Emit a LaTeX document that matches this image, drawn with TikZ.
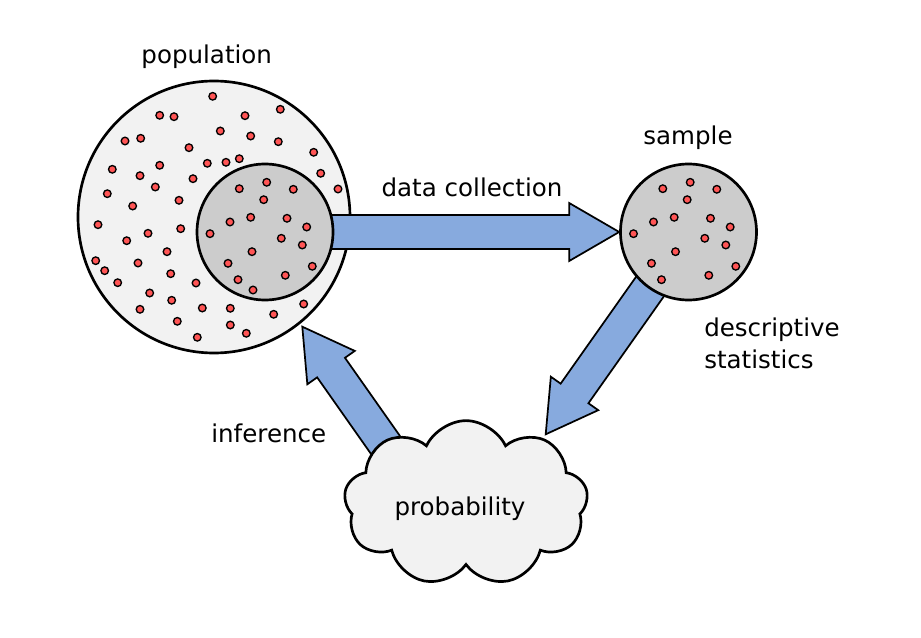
\documentclass[tikz,border=0pt]{standalone}
\usepackage{fontspec}
\setmainfont{DejaVu Sans}
\usetikzlibrary{calc,shapes.symbols}

\pgfdeclarelayer{back}
\pgfdeclarelayer{arrows}
\pgfsetlayers{back,arrows,main}

\definecolor{popgray}{RGB}{242,242,242}
\definecolor{samplegray}{RGB}{204,204,204}
\definecolor{dotred}{RGB}{255,85,85}
\definecolor{arrowblue}{RGB}{135,170,222}

\tikzset{
  circ/.style={circle, draw, line width=2pt, inner sep=0pt},
  dot/.style={draw, line width=1pt, fill=dotred},
  fat/.style={draw, line width=1.3pt, fill=arrowblue, line join=miter},
  lbl/.style={inner sep=0pt, font=\fontsize{18.4}{23.8}\selectfont},
}

% broad arrow from #1 to the tip #2
\newcommand{\fatarrow}[2]{%
  \draw[fat] ($(#1)!12.75pt!90:(#2)$)
    -- ($(#2)!37.5pt!(#1)!12.75pt!90:(#2)$)
    -- ($(#2)!37.5pt!(#1)!21.75pt!90:(#2)$)
    -- (#2)
    -- ($(#2)!37.5pt!(#1)!21.75pt!-90:(#2)$)
    -- ($(#2)!37.5pt!(#1)!12.75pt!-90:(#2)$)
    -- ($(#1)!12.75pt!-90:(#2)$) -- cycle;}

\begin{document}
\begin{tikzpicture}[x=0.75pt,y=0.75pt,yscale=-1,xscale=1]
\useasboundingbox (0,0) rectangle (921,638);

\begin{pgfonlayer}{back}
%Shape: Circle
\node[circ, fill=popgray, minimum size=204pt] (pop) at (214,217) {};
%Shape: Circle
\foreach \x/\y in {212.7/96.3, 159.7/115.3, 174/116.7, 245/115.7, 280.3/109.3,
  220.3/131, 250.7/136, 278.3/141.7, 125/141, 140.7/138.3, 189/147.7,
  313.7/152.3, 112.3/169.3, 140/175.7, 159.7/165.3, 207.3/163.3, 226/162.3,
  239.3/158.7, 320.7/173.3, 193/178.7, 155.3/187, 338/189, 107.3/193.7,
  132.7/206, 179/200.3, 98/224.7, 126.7/240.7, 148/233.3, 180.7/228.7,
  167/251.7, 95.7/260.7, 104.7/270.7, 117.7/282.7, 138/263, 170.7/273.7,
  196/283, 149.7/293, 171.7/300.3, 140/309.3, 202.3/308, 230.3/308.3,
  177.3/321.3, 230.3/325, 197.3/337.3, 246.3/333.3, 273.7/314.3, 303.7/304}
  \draw[dot] (\x,\y) circle (3.8);
\end{pgfonlayer}

%Shape: Circle
\node[circ, fill=samplegray, minimum size=102pt] (inner) at (265,232) {};
%Shape: Circle
\node[circ, fill=samplegray, minimum size=102pt] (sample) at (688.5,232) {};
%Shape: Cloud
\node[cloud, cloud puffs=9, cloud puff arc=130, aspect=1.47,
  draw, line width=2pt, fill=popgray, inner sep=0pt,
  minimum width=183pt, minimum height=124pt] (prob) at (466,503.3) {};

\coordinate (desc-tip) at (545.7,434.3);
\coordinate (inf-tail) at (446,531);
\coordinate (inf-tip) at (302.3,326.7);

%Shape: Circle
\foreach \x/\y in {239.3/188.7, 266.7/182.3, 293.3/189.3, 263.7/199.7,
  230/222, 250.7/217.3, 287/218.3, 306.7/227, 281.3/238.3, 302.3/245,
  252/251.7, 228/263.3, 312.3/266.3, 238/279.7, 285.3/275.3, 210/233.7}{
  \draw[dot] (\x,\y) circle (3.8);
  \draw[dot] (\x+423.5,\y) circle (3.8);
}
\draw[dot] (253,290) circle (3.8);

\begin{pgfonlayer}{arrows}
%Straight Lines
\fatarrow{inner}{sample.west}
%Straight Lines
\fatarrow{sample}{desc-tip}
%Straight Lines
\fatarrow{inf-tail}{inf-tip}
\end{pgfonlayer}

% Text Node
\node[lbl, anchor=base] (poplabel) at (206.7,64) {population};
% Text Node
\node[lbl, anchor=base] (samplelabel) at (688,144.3) {sample};
% Text Node
\node[lbl, anchor=base] (collectlabel) at (472,196) {data collection};
% Text Node
\node[lbl, anchor=base west, align=left] (desclabel) at (704,368.3) {descriptive\\statistics};
% Text Node
\node[lbl, anchor=base] (inflabel) at (268.8,442.3) {inference};
% Text Node
\node[lbl, anchor=base] (problabel) at (460,515) {probability};

\end{tikzpicture}
\end{document}
